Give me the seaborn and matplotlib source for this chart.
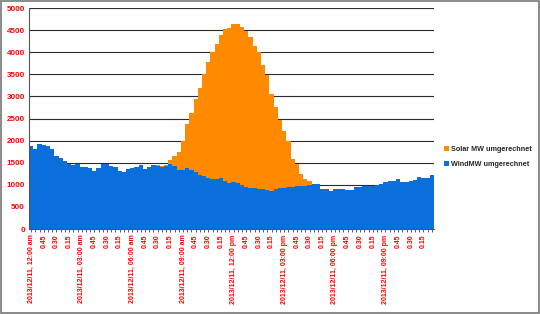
import matplotlib
matplotlib.use("Agg")
import matplotlib.pyplot as plt
import seaborn as sns
import pandas as pd
from matplotlib.patches import Rectangle

# 15-minute intervals, 2013/12/11, 00:00 .. 23:45 (96 bars)
wind = [1870, 1820, 1930, 1900, 1870, 1800, 1660, 1600, 1540, 1480, 1450, 1480,
        1410, 1400, 1370, 1320, 1380, 1470, 1480, 1420, 1400, 1320, 1300, 1350,
        1380, 1400, 1440, 1350, 1410, 1440, 1430, 1400, 1420, 1480, 1420, 1330,
        1330, 1380, 1330, 1280, 1230, 1190, 1160, 1140, 1120, 1160, 1080, 1040,
        1060, 1040, 1000, 950, 930, 920, 910, 900, 890, 860, 900, 920,
        930, 940, 960, 970, 970, 980, 1000, 1020, 1010, 910, 900, 870,
        900, 900, 905, 890, 890, 950, 960, 980, 970, 975, 990, 1020,
        1070, 1080, 1090, 1130, 1055, 1060, 1090, 1100, 1170, 1160, 1165, 1230]

total = [1870, 1820, 1930, 1900, 1870, 1800, 1660, 1600, 1540, 1480, 1450, 1480,
         1410, 1400, 1370, 1320, 1380, 1470, 1480, 1420, 1400, 1320, 1300, 1350,
         1380, 1400, 1440, 1350, 1410, 1440, 1450, 1420, 1450, 1560, 1660, 1750,
         2000, 2380, 2620, 2940, 3190, 3510, 3770, 4000, 4190, 4390, 4520, 4550,
         4640, 4630, 4570, 4490, 4340, 4150, 4000, 3720, 3480, 3060, 2760, 2460,
         2220, 1980, 1580, 1480, 1250, 1120, 1080, 1025, 1010, 910, 900, 870,
         900, 900, 905, 890, 890, 950, 960, 980, 970, 975, 990, 1020,
         1070, 1080, 1090, 1130, 1055, 1060, 1090, 1100, 1170, 1160, 1165, 1230]

tick_labels = ["2013/12/11, 12:00 am", "0.45", "0.30", "0.15",
               "2013/12/11, 03:00 am", "0.45", "0.30", "0.15",
               "2013/12/11, 06:00 am", "0.45", "0.30", "0.15",
               "2013/12/11, 09:00 am", "0.45", "0.30", "0.15",
               "2013/12/11, 12:00 pm", "0.45", "0.30", "0.15",
               "2013/12/11, 03:00 pm", "0.45", "0.30", "0.15",
               "2013/12/11, 06:00 pm", "0.45", "0.30", "0.15",
               "2013/12/11, 09:00 pm", "0.45", "0.30", "0.15"]

y_ticks = [0, 500, 1000, 1500, 2000, 2500, 3000, 3500, 4000, 4500, 5000]

solar_label = "Solar MW umgerechnet"
wind_label = "WindMW umgerechnet"

df = pd.DataFrame({"slot": list(range(len(wind))), "wind": wind, "total": total})

sns.set_style("white")
plt.rcParams["font.family"] = ["Liberation Sans", "DejaVu Sans"]

fig = plt.figure(figsize=(5.4, 3.14), dpi=100)
ax = fig.add_axes([0.0537, 0.2707, 0.750, 0.7038])

orange = "#FF8A00"
blue = "#0A6FDB"

sns.barplot(data=df, x="slot", y="total", color=orange, width=1.0, ax=ax,
            saturation=1, linewidth=0, label=solar_label)
sns.barplot(data=df, x="slot", y="wind", color=blue, width=1.0, ax=ax,
            saturation=1, linewidth=0, label=wind_label)
handles, labels = ax.get_legend_handles_labels()
if ax.get_legend() is not None:
    ax.get_legend().remove()

ax.set_xlim(-0.5, len(wind) - 0.5)
ax.set_ylim(0, 5000)
ax.set_axisbelow(True)
ax.yaxis.grid(True, color="#2b2b2b", linewidth=0.8)
ax.set_yticks(y_ticks)
ax.set_yticklabels([str(v) for v in y_ticks], color="red", fontsize=5.8,
                   fontweight="bold")
ax.set_xticks(list(range(0, len(wind), 3)))
ax.set_xticklabels(tick_labels, rotation=90, color="red", fontsize=5,
                   fontweight="bold")
ax.set_xticks(list(range(len(wind))), minor=True)
ax.tick_params(axis="x", which="both", length=2, width=0.6, color="#444444",
               direction="out", pad=2, bottom=True)
ax.tick_params(axis="y", length=0, pad=3)
ax.set_xlabel("")
ax.set_ylabel("")

for s in ["top", "right"]:
    ax.spines[s].set_visible(False)
ax.spines["left"].set_color("#555555")
ax.spines["left"].set_linewidth(0.8)
ax.spines["bottom"].set_color("#555555")
ax.spines["bottom"].set_linewidth(0.8)

leg = fig.legend(handles, labels, loc="upper left",
                 bbox_to_anchor=(0.822, 0.534), frameon=False,
                 fontsize=5.2, handlelength=0.7, handleheight=0.7,
                 handletextpad=0.3, labelspacing=1.1, borderpad=0,
                 borderaxespad=0)
for t in leg.get_texts():
    t.set_fontweight("bold")

fig.patches.append(Rectangle((0.001, 0.002), 0.997, 0.996, transform=fig.transFigure,
                             fill=False, edgecolor="#777777", linewidth=1.2))

fig.savefig("out.png", dpi=100, facecolor="white")
